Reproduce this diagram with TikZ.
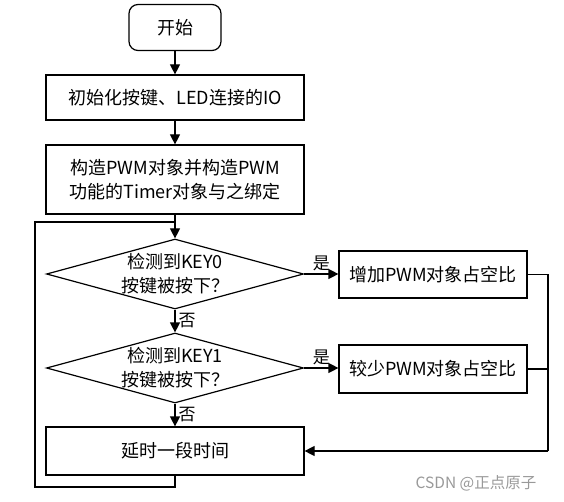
\documentclass[tikz,border=0pt]{standalone}
\usepackage{fontspec}
\setmainfont{Noto Sans CJK SC}
\usetikzlibrary{shapes.geometric,arrows.meta,positioning}
\begin{document}
\begin{tikzpicture}[x=1pt,y=1pt,
  every node/.style={font=\fontsize{18pt}{24pt}\selectfont},
  procbox/.style={draw,line width=1.2pt,minimum width=258pt,inner sep=0pt,align=center},
  sidebox/.style={draw,line width=1.2pt,minimum width=188pt,inner sep=0pt,align=center},
  decbox/.style={draw,diamond,line width=1.2pt,minimum width=257pt,minimum height=70pt,inner sep=0pt},
  dectext/.style={align=center,inner sep=0pt},
  termbox/.style={draw,rounded corners=9pt,line width=1.2pt,minimum width=92pt,minimum height=46pt,inner sep=0pt},
  conn/.style={line width=1.2pt,-{Triangle[length=10pt,width=10pt]}},
  plain/.style={line width=1.2pt},
  lbl/.style={font=\fontsize{17pt}{18pt}\selectfont,inner sep=0pt}
]
\useasboundingbox (0,0) rectangle (564,-502);
\node[termbox] (start) at (175,-27.5) {开始};
\node[procbox,minimum height=45pt] (init) at (175,-97.5) {初始化按键、LED连接的IO};
\node[procbox,minimum height=69pt] (pwm) at (175,-179.5) {构造PWM对象并构造PWM\\功能的Timer对象与之绑定};
\node[decbox] (d1) at (175,-274) {};
\node[dectext] (t1) at (d1.center) {检测到KEY0\\按键被按下？};
\node[decbox] (d2) at (175,-368) {};
\node[dectext] (t2) at (d2.center) {检测到KEY1\\按键被按下？};
\node[procbox,minimum height=48pt] (delay) at (175,-451) {延时一段时间};
\node[sidebox,minimum height=47pt] (inc) at (433,-274.5) {增加PWM对象占空比};
\node[sidebox,minimum height=48pt] (dec) at (433,-369) {较少PWM对象占空比};
\coordinate (join) at (175,-222);
\coordinate (rx) at (548,-451);
\coordinate (bl) at (35,-487);

\draw[conn] (start) -- (init);
\draw[conn] (init) -- (pwm);
\draw[conn] (pwm) -- (d1.north);
\draw[conn] (d1.south) -- node[lbl,right=3pt] {否} (d2.north);
\draw[conn] (d2.south) -- node[lbl,right=3pt] {否} (delay);
\draw[conn] (d1.east) -- node[lbl,above=3pt] {是} (d1.east -| inc.west);
\draw[conn] (d2.east) -- node[lbl,above=3pt] {是} (d2.east -| dec.west);
\draw[plain] (inc.east) -| (rx);
\draw[plain] (dec.east) -- (dec.east -| rx);
\draw[conn] (rx) -- (delay.east);
\draw[plain] (delay.south) |- (bl) |- (join);
\node[font=\fontsize{15.5pt}{16pt}\selectfont,text=black!40] (wm) at (476,-483) {CSDN @正点原子};
\end{tikzpicture}
\end{document}
